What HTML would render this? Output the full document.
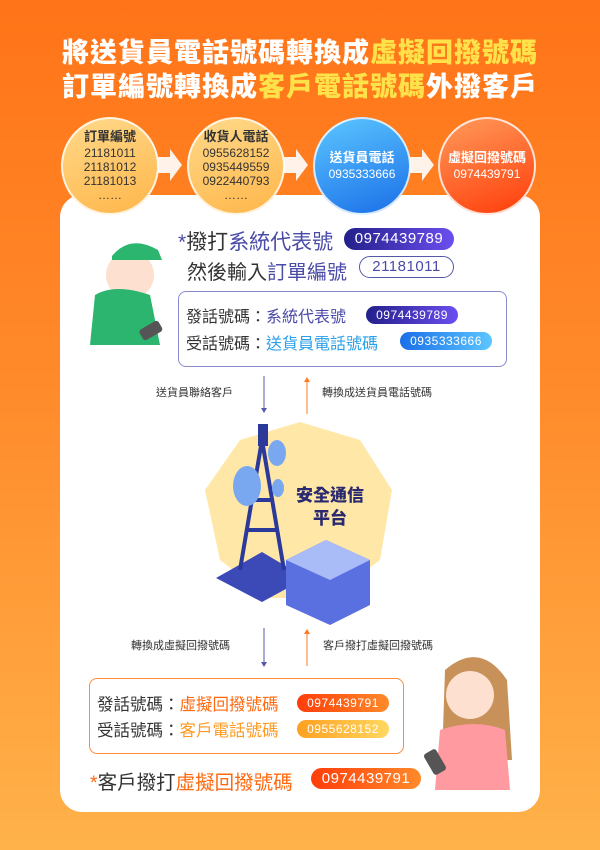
<!DOCTYPE html>
<html><head><meta charset="utf-8"><style>
*{margin:0;padding:0;box-sizing:border-box}
body{width:600px;height:850px;overflow:hidden;font-family:"Liberation Sans","Noto Sans CJK TC",sans-serif;background:linear-gradient(180deg,#ff7418 0%,#ff8a2a 45%,#ffb24a 100%);position:relative}
.abs{position:absolute}
.title{left:0;width:600px;text-align:center;color:#fff;font-weight:900;font-size:27px;letter-spacing:1px}
.title span{color:#ffe24a}
.card{left:60px;top:195px;width:480px;height:617px;background:#fff;border-radius:22px}
.circ{width:98px;height:98px;border-radius:50%;text-align:center;border:2px solid rgba(255,255,255,.8);display:flex;flex-direction:column;justify-content:center;align-items:center;font-size:12px;line-height:14px}
.y{background:linear-gradient(160deg,#ffd98a,#ffb64a);color:#333}
.circ b{font-size:13px;margin-bottom:2px}
.pill{border-radius:12px;color:#fff;text-align:center;font-size:13px;letter-spacing:.5px}
.t{font-size:17px;color:#333;white-space:nowrap}
.s{font-size:11px;color:#333;white-space:nowrap}
</style></head><body>
<div class="abs title" style="top:31px">將送貨員電話號碼轉換成<span>虛擬回撥號碼</span></div>
<div class="abs title" style="top:65px">訂單編號轉換成<span>客戶電話號碼</span>外撥客戶</div>
<div class="abs card"></div>

<div class="abs circ y" style="left:61px;top:117px"><b>訂單編號</b>21181011<br>21181012<br>21181013<br>……</div>
<div class="abs circ y" style="left:187px;top:117px"><b>收貨人電話</b>0955628152<br>0935449559<br>0922440793<br>……</div>
<div class="abs circ" style="left:313px;top:117px;background:linear-gradient(160deg,#5cc6ff,#1a6fe8);color:#fff"><b>送貨員電話</b>0935333666</div>
<div class="abs circ" style="left:438px;top:117px;background:linear-gradient(160deg,#ff9a5a,#ff3d0a);color:#fff"><b>虛擬回撥號碼</b>0974439791</div>
<svg class="abs" style="left:0;top:0" width="600" height="850">
<g fill="#fff" opacity=".9">
<path d="M158 157h12v-8l12 16-12 16v-8h-12z"/><path d="M284 157h12v-8l12 16-12 16v-8h-12z"/><path d="M410 157h12v-8l12 16-12 16v-8h-12z"/>
</g>
<line x1="264" y1="376" x2="264" y2="410" stroke="#5558a8"/><path d="M261 408l3 5 3-5z" fill="#5558a8"/>
<line x1="307" y1="380" x2="307" y2="414" stroke="#ff7a1e"/><path d="M304 382l3-5 3 5z" fill="#ff7a1e"/>
<line x1="264" y1="628" x2="264" y2="664" stroke="#5558a8"/><path d="M261 662l3 5 3-5z" fill="#5558a8"/>
<line x1="307" y1="632" x2="307" y2="666" stroke="#ff7a1e"/><path d="M304 634l3-5 3 5z" fill="#ff7a1e"/>
<polygon points="300,422 360,440 392,490 380,560 330,598 270,598 220,560 205,490 240,440" fill="#ffe7a8"/>
<polygon points="216,578 262,552 306,578 262,602" fill="#3c4ab8"/>
<path d="M262 440 L240 570 M262 440 L284 570 M250 500 L274 500 M246 530 L278 530" stroke="#2b3a9a" stroke-width="4" fill="none"/>
<rect x="258" y="424" width="10" height="22" fill="#2b3a9a"/>
<ellipse cx="247" cy="486" rx="14" ry="20" fill="#7aa8f0"/><ellipse cx="277" cy="453" rx="9" ry="13" fill="#7aa8f0"/><ellipse cx="278" cy="488" rx="6" ry="9" fill="#7aa8f0"/>
<polygon points="286,560 326,540 370,560 370,605 330,625 286,605" fill="#5a6fe0"/>
<polygon points="286,560 326,540 370,560 330,580" fill="#aabcf8"/>
<circle cx="130" cy="275" r="24" fill="#fde0d0"/>
<path d="M112 256q18-22 46-6l4 10h-50z" fill="#2bb56e"/>
<path d="M95 295q20-12 55 0l10 50h-70z" fill="#2bb56e"/>
<rect x="140" y="325" width="22" height="12" rx="3" fill="#555" transform="rotate(-30 150 331)"/>
<path d="M445 670q35-30 62 10l5 80h-70z" fill="#c8915a"/>
<circle cx="470" cy="695" r="24" fill="#fde0d0"/>
<path d="M440 730q35-12 65 0l5 60h-75z" fill="#ff9aa0"/>
<rect x="428" y="750" width="14" height="24" rx="3" fill="#555" transform="rotate(-30 435 762)"/>
</svg>

<div class="abs t" style="left:178px;top:226px;font-size:21px"><span style="color:#4a4aa8">*</span>撥打<span style="color:#4a4aa8">系統代表號</span></div>
<div class="abs pill" style="left:344px;top:228px;width:110px;height:22px;line-height:22px;font-size:15px;background:linear-gradient(90deg,#23208a,#6c4ef0)">0974439789</div>
<div class="abs t" style="left:187px;top:256px;font-size:20px">然後輸入<span style="color:#4a4aa8">訂單編號</span></div>
<div class="abs pill" style="left:359px;top:256px;width:95px;height:22px;line-height:20px;font-size:15px;border:1.5px solid #5558a8;color:#4a4aa8">21181011</div>
<div class="abs" style="left:178px;top:291px;width:329px;height:76px;border:1.5px solid #8a8ad0;border-radius:8px"></div>
<div class="abs t" style="left:186px;top:303px;font-size:16px">發話號碼：<span style="color:#4a4aa8">系統代表號</span></div>
<div class="abs pill" style="left:366px;top:306px;width:92px;height:18px;line-height:18px;font-size:12px;background:linear-gradient(90deg,#23208a,#6c4ef0)">0974439789</div>
<div class="abs t" style="left:186px;top:330px;font-size:16px">受話號碼：<span style="color:#2aa0e8">送貨員電話號碼</span></div>
<div class="abs pill" style="left:400px;top:332px;width:92px;height:18px;line-height:18px;font-size:12px;background:linear-gradient(90deg,#1a6fe8,#5cc6ff)">0935333666</div>

<div class="abs s" style="left:156px;top:384px">送貨員聯絡客戶</div>
<div class="abs s" style="left:322px;top:384px">轉換成送貨員電話號碼</div>
<div class="abs" style="left:296px;top:484px;font-size:17px;font-weight:900;color:#2a2a70;text-align:center;line-height:23px">安全通信<br>平台</div>
<div class="abs s" style="left:131px;top:637px">轉換成虛擬回撥號碼</div>
<div class="abs s" style="left:323px;top:637px">客戶撥打虛擬回撥號碼</div>

<div class="abs" style="left:89px;top:678px;width:315px;height:76px;border:1.5px solid #ff8a3a;border-radius:8px"></div>
<div class="abs t" style="left:97px;top:691px;font-size:16.5px">發話號碼：<span style="color:#ff6a10">虛擬回撥號碼</span></div>
<div class="abs pill" style="left:297px;top:694px;width:92px;height:18px;line-height:18px;font-size:12px;background:linear-gradient(90deg,#ff3d0a,#ff8a2a)">0974439791</div>
<div class="abs t" style="left:97px;top:717px;font-size:16.5px">受話號碼：<span style="color:#ff9a20">客戶電話號碼</span></div>
<div class="abs pill" style="left:297px;top:720px;width:92px;height:18px;line-height:18px;font-size:12px;background:linear-gradient(90deg,#ffa020,#ffd860)">0955628152</div>
<div class="abs t" style="left:90px;top:766px;font-size:19.5px"><span style="color:#ff6a10">*</span>客戶撥打<span style="color:#ff6a10">虛擬回撥號碼</span></div>
<div class="abs pill" style="left:311px;top:768px;width:110px;height:21px;line-height:21px;font-size:15px;background:linear-gradient(90deg,#ff3d0a,#ff8a2a)">0974439791</div>
</body></html>
